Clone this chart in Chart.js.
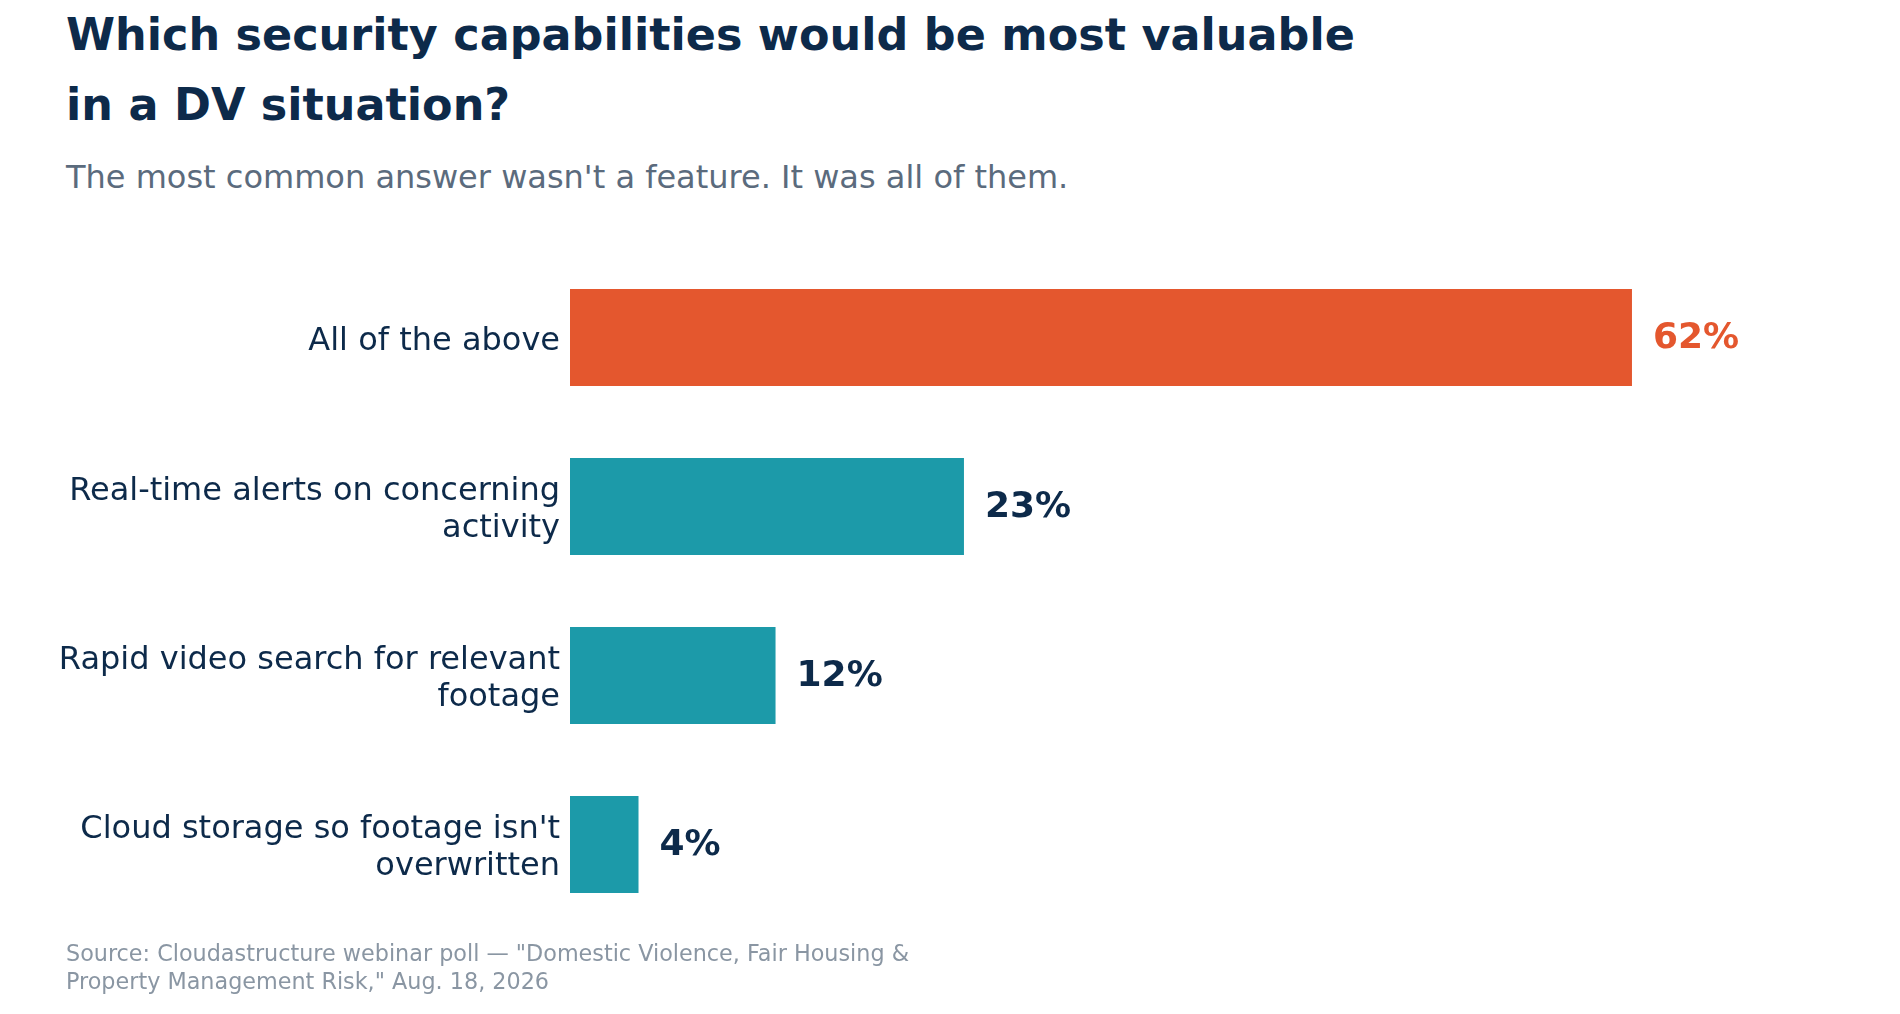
<!DOCTYPE html>
<html>
<head>
<meta charset="utf-8">
<script src="https://cdn.jsdelivr.net/npm/chart.js@4.4.1/dist/chart.umd.min.js"></script>
<style>
  html, body { margin: 0; padding: 0; background: #ffffff; }
  body { width: 1900px; height: 1014px; position: relative; overflow: hidden; font-family: "DejaVu Sans", sans-serif; }
  #title { position: absolute; left: 66px; top: 0px; font-size: 44.5px; font-weight: bold; line-height: 70px; color: #0d2a4a; }
  #subtitle { position: absolute; left: 66px; top: 160px; font-size: 32px; color: #5b6b7d; line-height: 35px; white-space: nowrap; }
  #source { position: absolute; left: 66px; top: 939px; font-size: 22.3px; line-height: 28px; color: #8a96a3; white-space: nowrap; }
  #wrap { position: absolute; left: 0; top: 0; width: 1900px; height: 1014px; }
</style>
</head>
<body>
<div id="title">Which security capabilities would be most valuable<br>in a DV situation?</div>
<div id="subtitle">The most common answer wasn't a feature. It was all of them.</div>
<div id="wrap"><canvas id="c"></canvas></div>
<div id="source">Source: Cloudastructure webinar poll — "Domestic Violence, Fair Housing &amp;<br>Property Management Risk," Aug. 18, 2026</div>
<script>
const categories = [
  ["All of the above"],
  ["Real-time alerts on concerning", "activity"],
  ["Rapid video search for relevant", "footage"],
  ["Cloud storage so footage isn't", "overwritten"]
];
const values = [62, 23, 12, 4];
const barColors = ["#e4572e", "#1c9aa9", "#1c9aa9", "#1c9aa9"];
const labelColors = ["#e4572e", "#0d2a4a", "#0d2a4a", "#0d2a4a"];

const valueLabels = {
  id: 'valueLabels',
  afterDatasetsDraw(chart) {
    const ctx = chart.ctx;
    const meta = chart.getDatasetMeta(0);
    ctx.save();
    ctx.font = 'bold 36px "DejaVu Sans"';
    ctx.textBaseline = 'middle';
    ctx.textAlign = 'left';
    meta.data.forEach((bar, i) => {
      ctx.fillStyle = labelColors[i];
      ctx.fillText(values[i] + '%', bar.x + 21, bar.y + 1);
    });
    ctx.restore();
  }
};

new Chart(document.getElementById('c'), {
  type: 'bar',
  data: {
    labels: categories,
    datasets: [{
      data: values,
      backgroundColor: barColors,
      borderWidth: 0,
      categoryPercentage: 1.0,
      barPercentage: 0.574
    }]
  },
  options: {
    indexAxis: 'y',
    responsive: true,
    maintainAspectRatio: false,
    animation: false,
    layout: { padding: { left: 0, right: 131, top: 253, bottom: 85 } },
    plugins: { legend: { display: false }, tooltip: { enabled: false } },
    scales: {
      x: { display: false, min: 0, max: 70 },
      y: {
        grid: { display: false },
        border: { display: false },
        ticks: {
          color: '#0d2a4a',
          padding: 2,
          labelOffset: 4,
          font: { family: '"DejaVu Sans"', size: 32, lineHeight: 1.16 }
        },
        afterFit(scale) { scale.width = 570; }
      }
    }
  },
  plugins: [valueLabels]
});
</script>
</body>
</html>
